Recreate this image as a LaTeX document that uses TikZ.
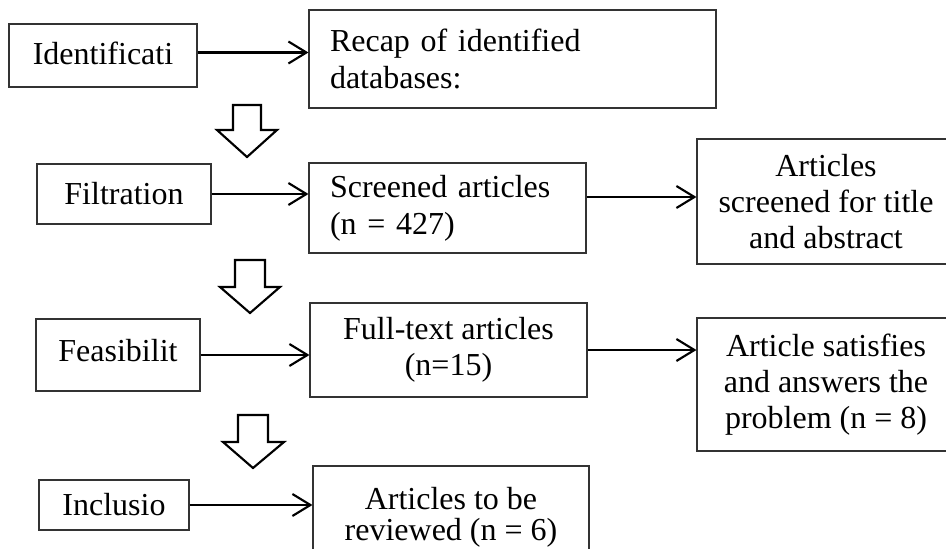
\documentclass[tikz,border=0pt]{standalone}
\usepackage{fontspec}
\setmainfont{Liberation Serif}
\usetikzlibrary{arrows.meta}
\newcommand\pxu{0.75pt}
\begin{document}
\begin{tikzpicture}[x=0.75pt,y=-0.75pt,
  box/.style={draw=black!80, line width=0.8pt, inner sep=0pt, align=center,
    font=\fontsize{24}{27}\selectfont},
  conn/.style={line width=1.6pt, -{Straight Barb[length=13.5pt,width=16.5pt,line width=1.6pt]}},
  hollow/.style={draw=black, line width=1.6pt, line join=miter, fill=white}]
\useasboundingbox (0,0) rectangle (946,549);
\clip (0,0) rectangle (946,549);
% left column
\node[box, minimum width=188*\pxu, minimum height=63*\pxu, text depth=4*\pxu] (iden) at (103,55.5) {Identificati};
\node[box, minimum width=174*\pxu, minimum height=60*\pxu] (filt) at (124,194) {Filtration};
\node[box, minimum width=164*\pxu, minimum height=72*\pxu, text depth=10*\pxu] (feas) at (118,355) {Feasibilit};
\node[box, minimum width=150*\pxu, minimum height=50*\pxu] (incl) at (114,505) {Inclusio};
% middle column
\node[box, align=left, text width=365*\pxu, inner xsep=21*\pxu, minimum height=98*\pxu,
  font=\fontsize{24}{28}\selectfont] (recap) at (512.5,59) {Recap of identified\\databases:};
\node[box, align=left, text width=235*\pxu, inner xsep=21*\pxu, minimum height=90*\pxu,
  font=\fontsize{24}{28}\selectfont] (scr) at (447.5,208) {Screened articles\\(n = 427)};
\node[box, minimum width=277*\pxu, minimum height=94*\pxu] (full) at (448.5,350) {Full-text articles\\(n=15)};
\node[box, minimum width=276*\pxu, minimum height=102*\pxu,
  font=\fontsize{24}{23.5}\selectfont] (rev) at (451,517) {Articles to be\\reviewed (n = 6)};
% right column
\node[box, minimum width=258*\pxu, minimum height=125*\pxu] (ascr) at (826,201.5) {Articles\\screened for title\\and abstract};
\node[box, minimum width=258*\pxu, minimum height=133*\pxu] (asat) at (826,384.5) {Article satisfies\\and answers the\\problem (n = 8)};
% connectors
\draw[conn] (iden.east) ++(0,-3) coordinate (i1) -- (i1 -| recap.west);
\draw[conn] (filt.east) -- (filt.east -| scr.west);
\draw[conn] (scr.east) ++(0,-11) coordinate (s1) -- (s1 -| ascr.west);
\draw[conn] (feas.east) -- (feas.east -| full.west);
\draw[conn] (full.east) -- (full.east -| asat.west);
\draw[conn] (incl.east) -- (incl.east -| rev.west);
% hollow down arrows
\draw[hollow] (233,105) -- (261,105) -- (261,130) -- (277,130) -- (247,157) -- (217,130) -- (233,130) -- cycle;
\draw[hollow] (235,260) -- (265,260) -- (265,287) -- (280,287) -- (250,313) -- (220,287) -- (235,287) -- cycle;
\draw[hollow] (238,415) -- (268,415) -- (268,442) -- (284,442) -- (253,468) -- (223,442) -- (238,442) -- cycle;
\end{tikzpicture}
\end{document}
